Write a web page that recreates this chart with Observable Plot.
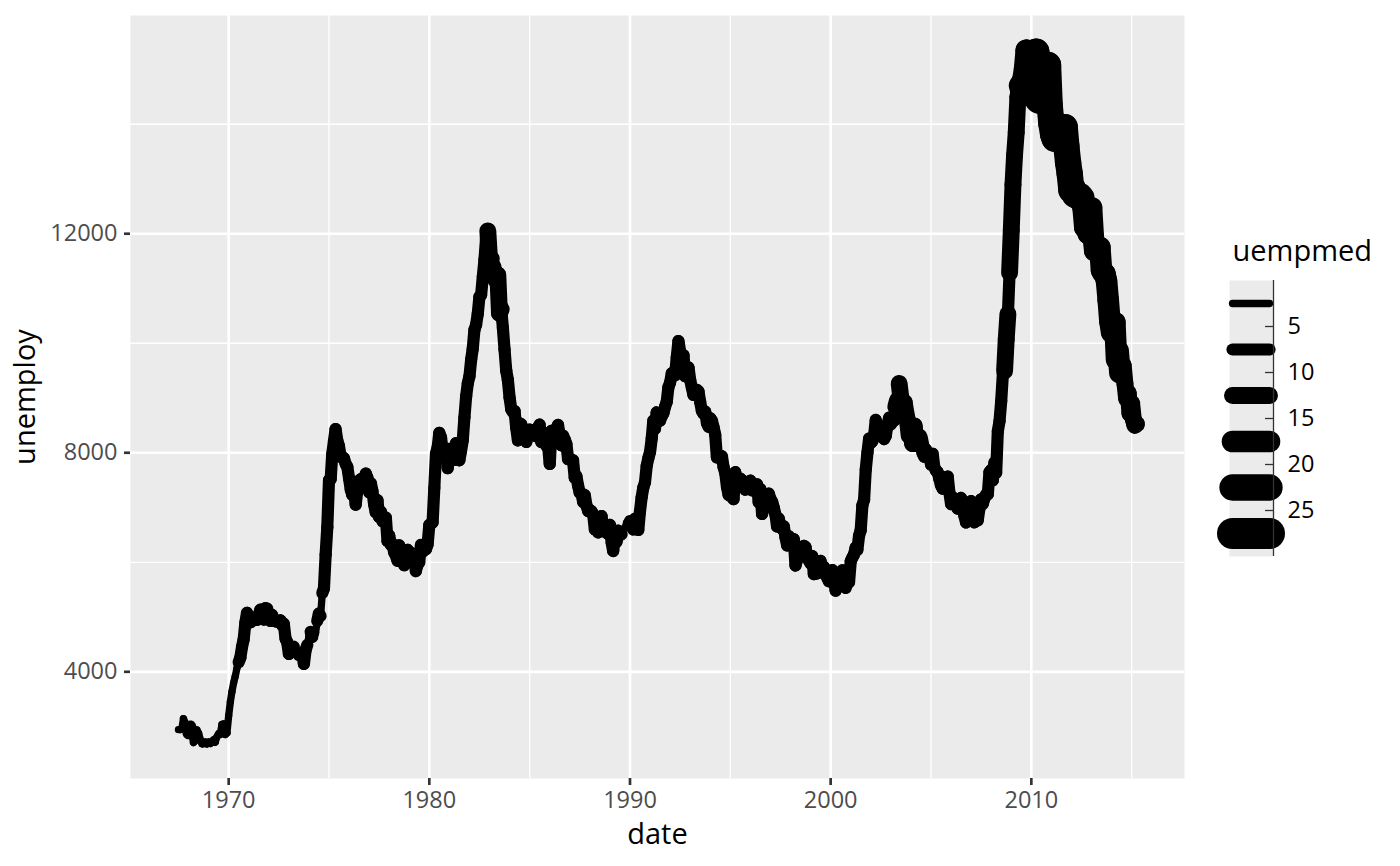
<!DOCTYPE html>
<html>
<head>
<meta charset="utf-8">
<script src="https://cdn.jsdelivr.net/npm/d3@7"></script>
<script src="https://cdn.jsdelivr.net/npm/@observablehq/plot@0.6"></script>
<style>
  body { margin: 0; background: #fff; font-family: "Open Sans", sans-serif; }
  #wrap { position: relative; width: 1400px; height: 866px; }
  #legend { position: absolute; left: 1217px; top: 230px; }
</style>
</head>
<body>
<div id="wrap"><div id="chart"></div><div id="legend"></div></div>
<script>
// monthly series, first month below
const START = "1967-07-01";
const unemploy = [
  2944, 2945, 2958, 3143, 3066, 3018,
  2878, 3001, 2877, 2709, 2740, 2938, 2883, 2768, 2686, 2689, 2715, 2685,
  2718, 2692, 2712, 2758, 2713, 2816, 2868, 2856, 3040, 3049, 2856, 2884,
  3201, 3453, 3635, 3797, 3919, 4071, 4175, 4256, 4456, 4591, 4898, 5076,
  4986, 4903, 4987, 4959, 4996, 4949, 5035, 5134, 5042, 4954, 5161, 5154,
  5019, 4928, 5038, 4959, 4922, 4923, 4913, 4939, 4849, 4875, 4602, 4543,
  4326, 4452, 4394, 4459, 4329, 4363, 4305, 4305, 4350, 4144, 4396, 4489,
  4644, 4731, 4634, 4618, 4705, 4927, 5063, 5022, 5437, 5523, 6140, 6636,
  7501, 7520, 7978, 8210, 8433, 8220, 8127, 7928, 7923, 7897, 7794, 7744,
  7534, 7326, 7230, 7330, 7053, 7322, 7490, 7518, 7380, 7430, 7620, 7545,
  7280, 7443, 7307, 7059, 6911, 7134, 6829, 6925, 6751, 6763, 6815, 6386,
  6489, 6318, 6337, 6180, 6127, 6028, 6309, 6080, 6125, 5947, 6077, 6228,
  6109, 6173, 6109, 6069, 5840, 5959, 5996, 6320, 6190, 6296, 6238, 6325,
  6683, 6702, 6729, 7358, 7984, 8098, 8363, 8281, 8021, 8088, 8023, 7718,
  8071, 8051, 7982, 7869, 8174, 8098, 7863, 8036, 8230, 8646, 9029, 9267,
  9397, 9705, 9895, 10244, 10335, 10538, 10849, 10881, 11217, 11529, 11938, 12051,
  11534, 11545, 11408, 11268, 11154, 11246, 10548, 10623, 10282, 9887, 9499, 9331,
  9008, 8791, 8746, 8762, 8456, 8226, 8537, 8519, 8367, 8381, 8198, 8358,
  8423, 8321, 8339, 8395, 8302, 8460, 8513, 8196, 8248, 8298, 8128, 8138,
  7795, 8402, 8383, 8364, 8439, 8508, 8319, 8135, 8310, 8243, 8159, 7883,
  7892, 7865, 7862, 7542, 7574, 7398, 7268, 7261, 7102, 7227, 7035, 6936,
  6953, 6929, 6876, 6601, 6779, 6546, 6605, 6843, 6604, 6568, 6537, 6518,
  6682, 6359, 6205, 6468, 6375, 6577, 6495, 6511, 6590, 6630, 6725, 6667,
  6752, 6651, 6598, 6797, 6742, 6590, 6922, 7188, 7368, 7459, 7764, 7901,
  8015, 8265, 8586, 8439, 8736, 8692, 8586, 8666, 8722, 8842, 8931, 9198,
  9283, 9454, 9460, 9415, 9744, 10040, 9850, 9787, 9781, 9398, 9565, 9557,
  9325, 9183, 9056, 9110, 9149, 9121, 8930, 8763, 8714, 8750, 8542, 8477,
  8630, 8583, 8470, 8331, 7915, 7927, 7946, 7933, 7734, 7632, 7375, 7230,
  7375, 7187, 7153, 7645, 7430, 7427, 7527, 7484, 7478, 7328, 7426, 7423,
  7491, 7313, 7318, 7415, 7423, 7095, 7337, 6882, 6979, 7031, 7236, 7253,
  7158, 7102, 7000, 6873, 6655, 6799, 6655, 6608, 6656, 6454, 6308, 6476,
  6368, 6306, 6422, 5941, 6047, 6212, 6259, 6179, 6300, 6280, 6100, 6032,
  5976, 6111, 5783, 6004, 5796, 5951, 6025, 5838, 5915, 5778, 5716, 5653,
  5708, 5858, 5733, 5481, 5758, 5651, 5747, 5853, 5625, 5534, 5639, 5634,
  6023, 6089, 6141, 6271, 6226, 6484, 6583, 7042, 7142, 7694, 8003, 8258,
  8182, 8215, 8304, 8599, 8399, 8393, 8390, 8304, 8251, 8307, 8520, 8640,
  8520, 8618, 8588, 8842, 8957, 9266, 9011, 8896, 8921, 8732, 8576, 8317,
  8370, 8167, 8491, 8170, 8212, 8286, 8136, 7990, 7927, 8061, 7932, 7934,
  7784, 7980, 7737, 7672, 7651, 7524, 7406, 7345, 7553, 7453, 7566, 7279,
  7064, 7184, 7072, 7120, 6980, 7001, 7175, 7091, 6847, 6727, 6872, 6762,
  7116, 6927, 6731, 6850, 6766, 6979, 7149, 7067, 7170, 7237, 7240, 7645,
  7685, 7497, 7822, 7637, 8395, 8575, 8937, 9438, 9494, 10074, 10538, 11286,
  12058, 12898, 13426, 13853, 14499, 14707, 14601, 14814, 15009, 15352, 15219, 15098,
  15046, 15113, 15202, 15325, 14849, 14474, 14512, 14648, 14579, 14516, 15081, 14348,
  14013, 13820, 13737, 13957, 13855, 13962, 13763, 13818, 13948, 13594, 13302, 13093,
  12797, 12813, 12713, 12646, 12660, 12692, 12656, 12471, 12115, 12124, 12005, 12298,
  12471, 11950, 11689, 11760, 11654, 11751, 11335, 11279, 11270, 11136, 10787, 10404,
  10202, 10349, 10380, 9702, 9859, 9460, 9608, 9599, 9262, 8990, 9090, 8717,
  8903, 8610, 8504, 8526
];
const uempmed = [
  4.5, 4.7, 4.6, 4.9, 4.7, 4.8,
  5.1, 4.5, 4.1, 4.6, 4.4, 4.4, 4.5, 4.2, 4.6, 4.8, 4.4, 4.4,
  4.4, 4.9, 4.0, 4.0, 4.2, 4.4, 4.4, 4.4, 4.7, 4.5, 4.8, 4.6,
  4.6, 4.5, 4.6, 4.1, 4.7, 4.9, 5.1, 5.4, 5.2, 5.2, 5.6, 5.9,
  6.2, 6.3, 6.4, 6.5, 6.7, 5.7, 6.2, 6.4, 5.8, 6.5, 6.4, 6.2,
  6.2, 6.6, 6.6, 6.7, 6.6, 5.4, 6.1, 6.0, 5.6, 5.7, 5.7, 6.1,
  5.7, 5.2, 5.5, 5.0, 4.9, 5.0, 5.2, 4.9, 5.4, 5.5, 5.1, 4.7,
  5.0, 5.1, 4.8, 5.0, 4.6, 5.3, 5.7, 5.0, 5.3, 5.5, 5.2, 5.7,
  6.3, 7.1, 7.2, 8.7, 9.4, 8.8, 8.6, 9.2, 9.2, 8.6, 9.5, 9.0,
  9.0, 8.2, 8.7, 8.2, 8.3, 7.8, 7.7, 7.9, 7.8, 7.7, 8.4, 8.0,
  7.5, 7.2, 7.2, 7.3, 7.9, 6.2, 7.1, 7.0, 6.7, 6.9, 7.0, 6.8,
  6.5, 6.7, 6.2, 6.1, 5.7, 6.0, 5.8, 5.8, 5.6, 5.9, 5.5, 5.6,
  5.9, 5.9, 5.9, 5.4, 5.6, 5.6, 5.9, 4.8, 5.5, 5.5, 5.3, 5.7,
  5.3, 5.8, 6.0, 5.8, 5.7, 6.4, 7.0, 7.5, 7.7, 7.5, 7.7, 7.5,
  7.4, 7.1, 7.1, 7.4, 6.9, 6.6, 7.1, 7.2, 6.8, 6.8, 6.9, 6.9,
  7.1, 7.5, 7.7, 8.1, 8.5, 9.5, 8.5, 8.7, 9.5, 9.7, 10.0, 10.2,
  11.1, 9.8, 10.4, 10.9, 12.3, 11.3, 10.1, 9.3, 9.3, 9.4, 9.3, 8.7,
  9.1, 8.3, 8.3, 8.2, 9.1, 7.5, 7.5, 7.3, 7.6, 7.2, 7.2, 7.3,
  6.8, 7.1, 7.1, 6.9, 6.9, 6.6, 6.9, 7.1, 6.9, 7.1, 7.0, 6.8,
  6.7, 6.9, 6.8, 6.7, 6.8, 7.0, 6.9, 7.1, 7.4, 7.0, 7.1, 7.1,
  6.9, 6.6, 6.6, 7.1, 6.6, 6.5, 6.5, 6.4, 6.0, 6.3, 6.2, 6.0,
  6.2, 6.3, 6.4, 5.9, 5.9, 5.8, 6.1, 5.9, 5.7, 5.6, 5.7, 5.9,
  5.6, 5.4, 5.4, 5.4, 5.3, 5.4, 5.6, 5.0, 4.9, 4.9, 4.8, 4.8,
  5.3, 5.1, 4.8, 5.2, 5.2, 5.4, 5.4, 5.6, 5.8, 5.7, 5.9, 6.0,
  6.2, 6.7, 6.6, 6.4, 6.9, 7.0, 7.3, 6.8, 7.2, 7.5, 7.8, 8.1,
  8.2, 8.3, 8.5, 8.8, 8.7, 8.6, 8.8, 8.6, 9.0, 9.0, 9.3, 8.6,
  8.5, 8.5, 8.4, 8.1, 8.3, 8.2, 8.2, 8.3, 8.0, 8.3, 8.3, 8.0,
  8.6, 9.2, 9.3, 9.1, 9.2, 9.3, 9.0, 8.9, 9.2, 10.0, 9.0, 8.7,
  8.0, 8.1, 8.3, 8.3, 9.1, 7.9, 8.5, 8.3, 7.9, 8.2, 8.0, 8.3,
  8.3, 7.8, 8.3, 8.6, 8.6, 8.3, 8.3, 8.4, 8.5, 8.3, 7.7, 7.8,
  7.8, 8.1, 7.9, 8.3, 8.0, 8.0, 8.3, 7.8, 8.2, 7.7, 7.6, 7.5,
  7.4, 7.0, 6.8, 6.7, 6.0, 6.9, 6.7, 6.8, 6.7, 5.8, 6.6, 6.8,
  6.9, 6.8, 6.8, 6.2, 6.5, 6.3, 5.8, 6.5, 6.0, 6.1, 6.2, 5.8,
  5.8, 6.1, 6.0, 6.1, 5.8, 5.7, 6.0, 6.3, 5.2, 6.1, 6.1, 6.0,
  5.8, 6.1, 6.6, 5.9, 6.3, 6.0, 6.8, 6.9, 7.2, 7.3, 7.7, 8.2,
  8.4, 8.3, 8.4, 8.9, 9.5, 11.0, 8.9, 9.0, 9.5, 9.6, 9.3, 9.6,
  9.6, 9.5, 9.7, 10.2, 9.9, 11.5, 10.3, 10.1, 10.2, 10.4, 10.3, 10.4,
  10.6, 10.2, 10.2, 9.5, 9.9, 11.0, 8.9, 9.2, 9.6, 9.5, 9.7, 9.5,
  9.4, 9.2, 9.3, 9.0, 9.1, 9.0, 8.8, 9.2, 8.4, 8.6, 8.5, 8.7,
  8.6, 9.1, 8.7, 8.4, 8.5, 7.3, 8.0, 8.4, 8.0, 7.9, 8.3, 7.5,
  8.3, 8.5, 9.1, 8.6, 8.2, 7.7, 8.7, 8.8, 8.7, 8.4, 8.6, 8.4,
  9.0, 8.7, 8.7, 9.4, 7.9, 9.0, 9.7, 9.7, 10.2, 10.4, 9.8, 10.5,
  10.7, 11.7, 12.3, 13.1, 14.2, 17.2, 16.0, 16.3, 17.8, 18.9, 19.8, 20.1,
  20.0, 19.9, 20.4, 22.1, 22.3, 25.2, 22.2, 20.0, 20.9, 20.6, 21.5, 21.0,
  21.7, 21.9, 21.2, 20.9, 21.9, 22.9, 21.2, 20.3, 20.6, 20.8, 20.5, 20.8,
  20.5, 20.2, 19.3, 19.2, 19.9, 20.1, 17.2, 18.6, 18.6, 18.6, 17.9, 18.4,
  17.2, 18.0, 18.1, 17.4, 17.5, 17.4, 16.3, 16.5, 16.5, 17.1, 17.0, 16.5,
  16.4, 15.7, 16.1, 13.6, 15.3, 13.0, 14.0, 13.4, 13.4, 13.5, 13.2, 12.9,
  13.2, 12.9, 12.0, 11.5
];
const xMajor = [1970, 1980, 1990, 2000, 2010];
const xMinor = [1975, 1985, 1995, 2005, 2015];
const yMajor = [4000, 8000, 12000];
const yMinor = [6000, 10000, 14000];
const binBreaks = [5, 10, 15, 20, 25];
const binWidths = [7.3, 12.2, 16.9, 21.6, 26.3, 31]; // px per bin

const FONT = '"Open Sans", sans-serif';
const yr = y => new Date(Date.UTC(y, 0, 1));
const t0 = new Date(START);

const rows = unemploy.map((u, i) => ({date: d3.utcMonth.offset(t0, i), unemploy: u, uempmed: uempmed[i]}));
// geom_path style: each piece takes the width of its first point
const pieces = rows.slice(0, -1).map((r, i) => ({
  x1: r.date, y1: r.unemploy,
  x2: rows[i + 1].date, y2: rows[i + 1].unemploy,
  w: binWidths[d3.bisectLeft(binBreaks, r.uempmed)]
}));

// ggplot-like 5% expansion
function expand([a, b]) { const p = (b - a) * 0.05; return [a - p, b + p]; }
const xExt = expand(d3.extent(rows, d => +d.date));
const yDomain = expand(d3.extent(unemploy));

const white = {stroke: "#fff", strokeOpacity: 1};
const chart = Plot.plot({
  width: 1400,
  height: 866,
  marginLeft: 130,
  marginRight: 216,
  marginTop: 15,
  marginBottom: 88,
  style: {fontFamily: FONT, fontSize: "23.5px", background: "#fff", overflow: "visible"},
  x: {type: "utc", domain: xExt.map(v => new Date(v))},
  y: {domain: yDomain},
  marks: [
    Plot.frame({fill: "#EBEBEB", stroke: "none"}),
    Plot.gridX(xMinor.map(yr), {...white, strokeWidth: 1.33}),
    Plot.gridY(yMinor, {...white, strokeWidth: 1.33}),
    Plot.gridX(xMajor.map(yr), {...white, strokeWidth: 2.67}),
    Plot.gridY(yMajor, {...white, strokeWidth: 2.67}),
    Plot.link(pieces, {
      x1: "x1", y1: "y1", x2: "x2", y2: "y2",
      stroke: "#000", strokeWidth: "w", strokeLinecap: "round"
    }),
    Plot.axisX(xMajor.map(yr), {
      tickSize: 7, tickPadding: 6, tickFormat: d3.utcFormat("%Y"),
      stroke: "#333333", fill: "#4D4D4D", strokeWidth: 2.67, label: null
    }),
    Plot.axisY(yMajor, {
      tickSize: 6, tickPadding: 7, tickFormat: d => String(d),
      stroke: "#333333", fill: "#4D4D4D", strokeWidth: 2.67, label: null
    }),
    Plot.text(["date"], {frameAnchor: "bottom", dy: 65, lineAnchor: "bottom", textAnchor: "middle", fontSize: 29, fill: "#000"}),
    Plot.text(["unemploy"], {frameAnchor: "left", dx: -96, rotate: -90, lineAnchor: "bottom", textAnchor: "middle", fontSize: 29, fill: "#000"})
  ]
});
document.getElementById("chart").append(chart);

// binned legend (guide_bins look)
const keys = binWidths.map((w, i) => ({y: i + 0.5, w}));
const legend = Plot.plot({
  width: 130,
  height: 334,
  marginLeft: 12,
  marginRight: 74,
  marginTop: 50,
  marginBottom: 8,
  style: {fontFamily: FONT, fontSize: "23.5px", background: "transparent", overflow: "visible"},
  x: {domain: [0, 44], axis: null},
  y: {domain: [0, binWidths.length], reverse: true, axis: null},
  marks: [
    Plot.frame({fill: "#EBEBEB", stroke: "none"}),
    Plot.ruleY(keys, {y: "y", x1: 3.5, x2: 40.5, strokeWidth: "w", stroke: "#000", strokeLinecap: "round"}),
    Plot.ruleX([44], {stroke: "#333333", strokeWidth: 1.3}),
    Plot.ruleY(d3.range(1, binWidths.length), {x1: 36, x2: 44, stroke: "#333333", strokeWidth: 1.3}),
    Plot.axisY(d3.range(1, binWidths.length), {
      anchor: "right", tickSize: 0, tickPadding: 14,
      tickFormat: i => binBreaks[i - 1], fill: "#000", label: null
    }),
    Plot.text(["uempmed"], {frameAnchor: "top-left", dx: 3, dy: -20, lineAnchor: "bottom", textAnchor: "start", fontSize: 29, fill: "#000"})
  ]
});
document.getElementById("legend").append(legend);
</script>
</body>
</html>
